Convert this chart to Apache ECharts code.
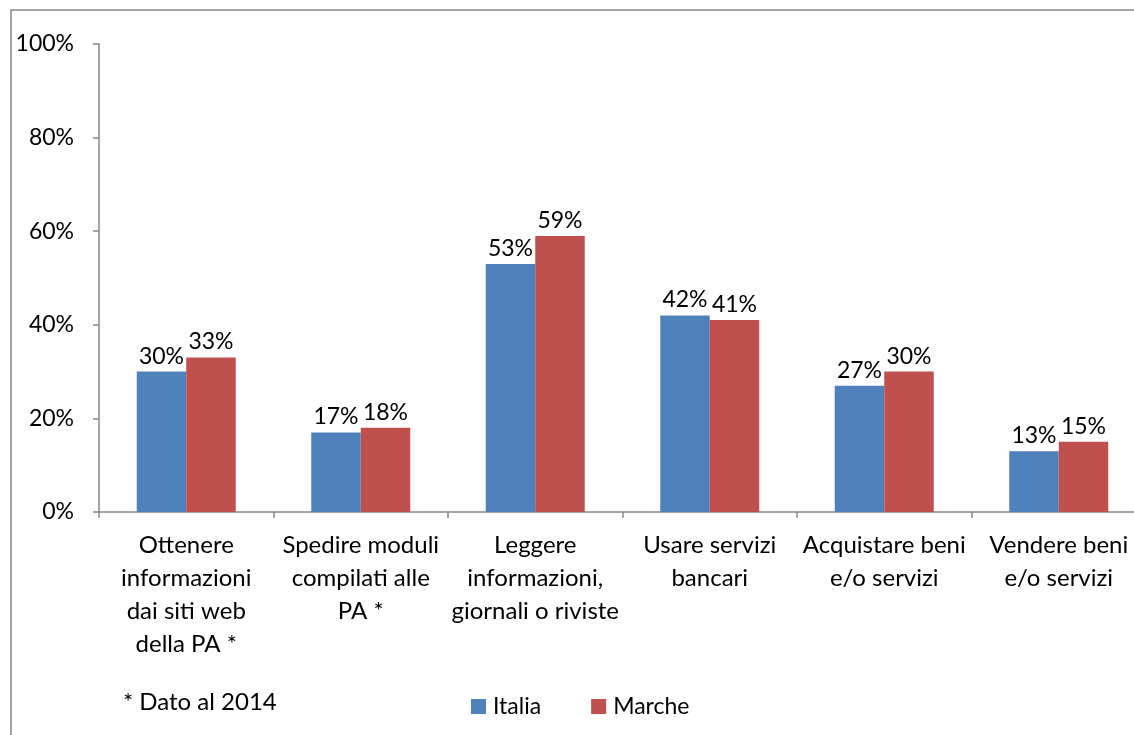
<!DOCTYPE html>
<html>
<head>
<meta charset="utf-8">
<script src="https://cdn.jsdelivr.net/npm/echarts@6/dist/echarts.min.js"></script>
<style>
  html, body { margin: 0; padding: 0; background: #fff; overflow: hidden; }
  #chart { width: 1134px; height: 735px; }
</style>
</head>
<body>
<div id="chart"></div>
<script>
// Attività svolte su Internet: confronto Italia / Marche
const categories = [
  'Ottenere\ninformazioni\ndai siti web\ndella PA *',
  'Spedire moduli\ncompilati alle\nPA *',
  'Leggere\ninformazioni,\ngiornali o riviste',
  'Usare servizi\nbancari',
  'Acquistare beni\ne/o servizi',
  'Vendere beni\ne/o servizi'
];
const italia = [30, 17, 53, 42, 27, 13];
const marche = [33, 18, 59, 41, 30, 15];
const yTicks = [0, 20, 40, 60, 80, 100];
const footnote = '* Dato al 2014';

const FONT = 'Lato, "Open Sans", sans-serif';
const AXIS_GRAY = '#868686';

const chart = echarts.init(document.getElementById('chart'), null, { renderer: 'canvas' });

const labelStyle = {
  show: true,
  position: 'top',
  distance: 4,
  color: '#000',
  fontFamily: FONT,
  fontSize: 23,
  formatter: p => p.value + '%'
};

chart.setOption({
  animation: false,
  backgroundColor: '#fff',
  textStyle: { fontFamily: FONT },
  // the plot runs a little past the right edge of the frame
  grid: {
    left: 99, top: 44, width: 1047, height: 468,
    containLabel: false,
    outerBoundsMode: 'none'
  },
  legend: {
    left: 466,
    top: 690,
    itemWidth: 15,
    itemHeight: 15,
    itemGap: 50,
    icon: 'rect',
    textStyle: { color: '#000', fontFamily: FONT, fontSize: 23, padding: [0, 0, 0, 2] },
    data: ['Italia', 'Marche']
  },
  xAxis: {
    type: 'category',
    data: categories,
    axisLine: { lineStyle: { color: AXIS_GRAY, width: 1.5 } },
    axisTick: { show: true, length: 6, alignWithLabel: false, lineStyle: { color: AXIS_GRAY, width: 1.5 } },
    axisLabel: {
      interval: 0,
      margin: 17,
      color: '#000',
      fontFamily: FONT,
      fontSize: 24,
      lineHeight: 33,
      align: 'center'
    },
    splitLine: { show: false }
  },
  yAxis: {
    type: 'value',
    min: yTicks[0],
    max: yTicks[yTicks.length - 1],
    interval: 20,
    axisLine: { show: true, lineStyle: { color: AXIS_GRAY, width: 1.5 } },
    axisTick: { show: true, length: 6, lineStyle: { color: AXIS_GRAY, width: 1.5 } },
    axisLabel: {
      margin: 25,
      color: '#000',
      fontFamily: FONT,
      fontSize: 23,
      formatter: v => v + '%'
    },
    splitLine: { show: false }
  },
  series: [
    {
      name: 'Italia',
      type: 'bar',
      data: italia,
      barWidth: 49.5,
      barGap: '0%',
      itemStyle: { color: '#4F81BD' },
      label: labelStyle
    },
    {
      name: 'Marche',
      type: 'bar',
      data: marche,
      barWidth: 49.5,
      barGap: '0%',
      itemStyle: { color: '#C0504D' },
      label: labelStyle
    }
  ],
  graphic: [
    // chart frame: only its top and left edges fall inside the view
    {
      type: 'polyline',
      silent: true,
      shape: { points: [[11, 740], [11, 10], [1140, 10]] },
      style: { fill: null, stroke: AXIS_GRAY, lineWidth: 1.5 }
    },
    {
      type: 'text',
      silent: true,
      left: 123,
      top: 690,
      style: { text: footnote, fill: '#000', font: '24px ' + FONT }
    }
  ]
});
</script>
</body>
</html>
